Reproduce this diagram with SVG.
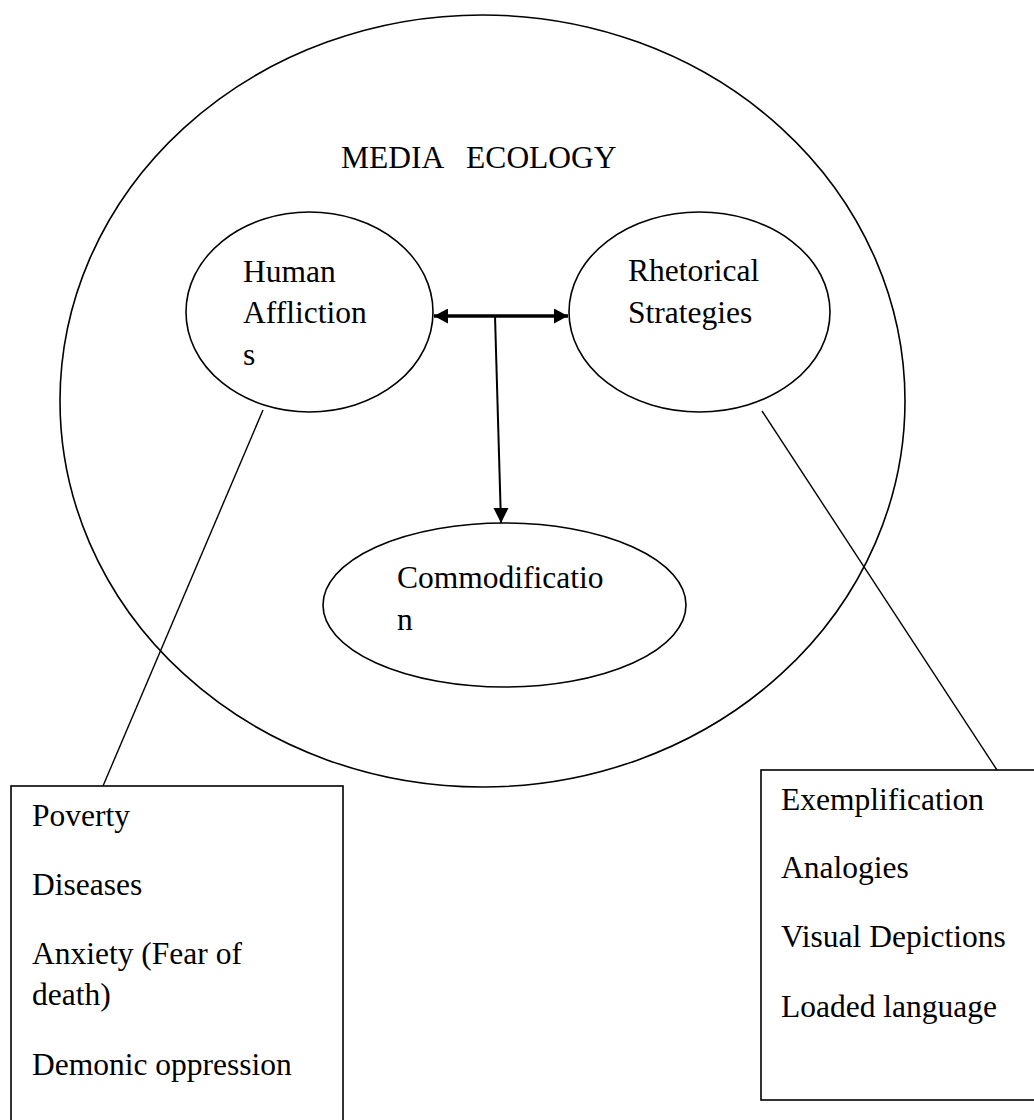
<svg xmlns="http://www.w3.org/2000/svg" width="1034" height="1120" viewBox="0 0 1034 1120">
<style>
.shape{fill:none;stroke:#000;stroke-width:1.6}
.box{fill:#fff;stroke:#000;stroke-width:1.6}
.lbl{font-family:"Liberation Serif","Times New Roman",serif;font-size:31.5px;fill:#000}
.conn{stroke:#000;fill:none}
</style>
<defs>
<marker id="ah" markerUnits="userSpaceOnUse" markerWidth="14" markerHeight="15" refX="14" refY="7.5" orient="auto-start-reverse">
<path d="M0,0 L14,7.5 L0,15 z" fill="#000"/>
</marker>
<marker id="av" markerUnits="userSpaceOnUse" markerWidth="15" markerHeight="15" refX="15" refY="7.5" orient="auto">
<path d="M0,0 L15,7.5 L0,15 z" fill="#000"/>
</marker>
</defs>
<rect width="1034" height="1120" fill="#fff"/>
<g id="media-ecology">
<ellipse class="shape" cx="482.5" cy="401" rx="422.5" ry="386"/>
<text class="lbl" x="341" y="168" xml:space="preserve">MEDIA   ECOLOGY</text>
</g>
<g id="human-afflictions">
<ellipse class="shape" cx="309.5" cy="312" rx="123.5" ry="100"/>
<text class="lbl" x="243" y="282">Human</text>
<text class="lbl" x="243" y="323">Affliction</text>
<text class="lbl" x="243" y="365">s</text>
</g>
<g id="rhetorical-strategies">
<ellipse class="shape" cx="699.5" cy="312" rx="130.5" ry="100"/>
<text class="lbl" x="628" y="281">Rhetorical</text>
<text class="lbl" x="628" y="323">Strategies</text>
</g>
<g id="commodification">
<ellipse class="shape" cx="504.5" cy="605" rx="181.5" ry="82"/>
<text class="lbl" x="397" y="588">Commodificatio</text>
<text class="lbl" x="397" y="630">n</text>
</g>
<g id="connectors">
<line class="conn" x1="434" y1="316" x2="568" y2="316" stroke-width="3.5" marker-start="url(#ah)" marker-end="url(#ah)"/>
<line class="conn" x1="495" y1="316" x2="501" y2="523" stroke-width="2"/>
<path d="M493.5,508 L508.5,508 L501,523 z" fill="#000"/>
<line class="conn" x1="263" y1="410" x2="103" y2="786" stroke-width="1.4"/>
<line class="conn" x1="762" y1="411" x2="997" y2="770" stroke-width="1.4"/>
</g>
<g id="afflictions-list">
<rect class="box" x="11" y="786" width="332" height="360"/>
<text class="lbl" x="32" y="826">Poverty</text>
<text class="lbl" x="32" y="895">Diseases</text>
<text class="lbl" x="32" y="964">Anxiety (Fear of</text>
<text class="lbl" x="32" y="1005">death)</text>
<text class="lbl" x="32" y="1075">Demonic oppression</text>
</g>
<g id="strategies-list">
<rect class="box" x="761" y="770" width="290" height="330"/>
<text class="lbl" x="781" y="810">Exemplification</text>
<text class="lbl" x="781" y="878">Analogies</text>
<text class="lbl" x="781" y="947">Visual Depictions</text>
<text class="lbl" x="781" y="1017">Loaded language</text>
</g>
</svg>
